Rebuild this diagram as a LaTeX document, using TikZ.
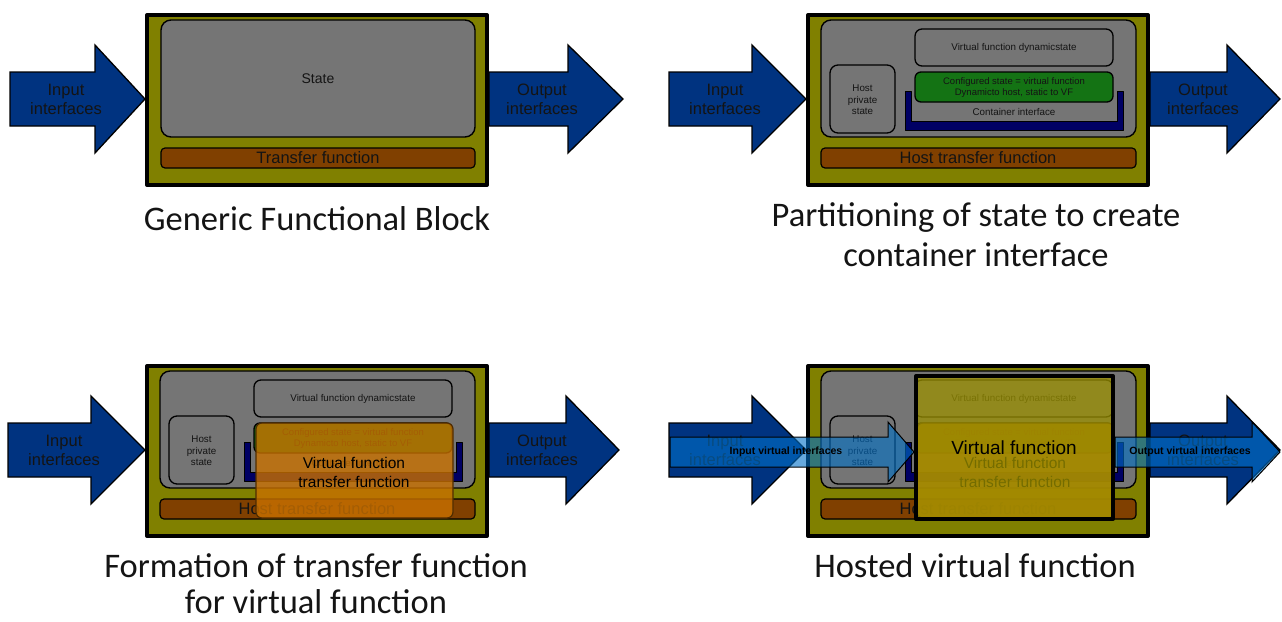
\documentclass[tikz,border=0pt]{standalone}
\usepackage{fontspec}
\setmainfont{Liberation Sans}
\newfontfamily\capfont{Carlito}

\definecolor{blockolive}{RGB}{128,128,0}
\definecolor{stategray}{RGB}{117,117,117}
\definecolor{tfbrown}{RGB}{128,64,0}
\definecolor{ifnavy}{RGB}{0,51,128}
\definecolor{cfggreen}{RGB}{20,115,20}
\definecolor{contnavy}{RGB}{0,0,100}
\definecolor{vtforange}{RGB}{200,112,0}
\definecolor{vfyellow}{RGB}{155,145,0}
\definecolor{vifblue}{RGB}{0,112,200}
\definecolor{inktext}{RGB}{20,20,20}

\newcommand\fs[2]{\fontsize{#1}{#2}\selectfont}

% block arrow: style, tail x, head-start x, tip x, centre y, shaft half-height, head half-height
\newcommand\fatarrow[7]{%
  \path[#1] (#2,{#5-#6}) -- (#3,{#5-#6}) -- (#3,{#5-#7}) -- (#4,#5)
    -- (#3,{#5+#7}) -- (#3,{#5+#6}) -- (#2,{#5+#6}) -- cycle;}

\tikzset{
  bigarrow/.style={draw=black, line width=1.3pt, fill=ifnavy, line join=miter},
  virtarrow/.style={draw=black, line width=1pt, fill=vifblue, fill opacity=0.6, line join=miter},
  arrowtext/.style={text=inktext, align=center, font=\fs{16.5}{19}},
  block/.style={draw=black, line width=4pt, fill=blockolive},
  graybox/.style={draw=black, line width=1.4pt, fill=stategray, rounded corners=10pt},
  innerbox/.style={draw=black, line width=1.3pt, fill=stategray, rounded corners=8pt},
  cfgbox/.style={draw=black, line width=1.3pt, fill=cfggreen, rounded corners=6pt},
  contbar/.style={draw=black, line width=0.8pt, fill=contnavy},
  tfbar/.style={draw=black, line width=1.2pt, fill=tfbrown, rounded corners=4pt},
  bartext/.style={text=inktext, font=\fs{16.5}{19}},
  smalltext/.style={text=inktext, align=center, font=\fs{9.8}{11.5}},
  vtfbox/.style={draw=black!60!vtforange, line width=1.2pt, fill=vtforange,
    fill opacity=0.8, rounded corners=6pt},
  vtftext/.style={text=black, align=center, font=\fs{15.5}{19}},
  vfbox/.style={draw=black, line width=4pt, fill=vfyellow, fill opacity=0.75},
  vfname/.style={text=black, font=\fs{19}{22}},
  virttext/.style={text=black, font=\bfseries\fs{10.5}{12}},
  caption/.style={text=inktext, anchor=base, font=\capfont\fs{34.5}{40}}
}

% host block with partitioned state, drawn at the position of the upper right panel
\newcommand\hostblock{%
  \fatarrow{bigarrow}{669}{752}{806}{99}{27}{54}
  \node[arrowtext] (in) at (725,99) {Input\\interfaces};
  \fatarrow{bigarrow}{1150}{1227}{1280}{99}{27}{54}
  \node[arrowtext] (out) at (1203,99) {Output\\interfaces};
  \draw[block] (808,15) rectangle (1148,185);
  \draw[graybox] (821,20) rectangle (1136,137);
  \draw[innerbox] (830,65) rectangle (895,133);
  \node[smalltext] (hps) at (862.5,100) {Host\\private\\state};
  \draw[innerbox, rounded corners=7pt] (915,29) rectangle (1113,66);
  \node[smalltext] (vfdyn) at (1014,48) {Virtual function dynamicstate};
  \path[contbar] (905,91) -- (905,130) -- (1123,130) -- (1123,91) -- (1117,91)
    -- (1117,121) -- (911,121) -- (911,91) -- cycle;
  \draw[cfgbox] (915,72) rectangle (1113,102);
  \node[smalltext, font=\fs{9.5}{11}] (cfg) at (1014,87.5)
    {Configured state = virtual function\\Dynamicto host, static to VF};
  \node[smalltext] (cont) at (1014,112) {Container interface};
  \draw[tfbar] (821,148) rectangle (1136,168);
  \node[bartext] (htf) at (978,158) {Host transfer function};
}

% transfer function of the virtual function, laid over the host block
\newcommand\vtfoverlay{%
  \draw[vtfbox] (917,72) rectangle (1114,167);
  \node[vtftext] (vtf) at (1015,121.5) {Virtual function\\transfer function};
}

\begin{document}
\begin{tikzpicture}[x=1pt, y=-1pt, line join=round]
\useasboundingbox (0,0) rectangle (1282,621);

% generic functional block
\fatarrow{bigarrow}{10}{95}{145}{99}{27}{54}
\node[arrowtext] (p1-in) at (66,99) {Input\\interfaces};
\fatarrow{bigarrow}{489}{568}{623}{99}{27}{54}
\node[arrowtext] (p1-out) at (542,99) {Output\\interfaces};
\draw[block] (147,15) rectangle (487,185);
\draw[graybox] (161,20) rectangle (475,137);
\node[text=inktext, font=\fs{14}{16}] (p1-state) at (318,79) {State};
\draw[tfbar] (161,148) rectangle (475,168);
\node[bartext] (p1-tf) at (318,158) {Transfer function};
\node[caption] (cap1) at (317,230) {Generic Functional Block};

% partitioning of state
\begin{scope}[name prefix=p2-]
  \hostblock
\end{scope}
\node[caption] (cap2a) at (976,226) {Partitioning of state to create};
\node[caption] (cap2b) at (976,266) {container interface};

% formation of transfer function
\begin{scope}[shift={(-661,351)}, name prefix=p3-]
  \hostblock
  \vtfoverlay
\end{scope}
\node[caption] (cap3a) at (316,577) {Formation of transfer function};
\node[caption] (cap3b) at (316,613) {for virtual function};

% hosted virtual function
\begin{scope}[shift={(0,351)}, name prefix=p4-]
  \hostblock
  \vtfoverlay
  \draw[vfbox] (916,25) rectangle (1113,168);
  \node[vfname] (vf) at (1014,97) {Virtual function};
  \fatarrow{virtarrow}{670}{888}{914}{101}{15}{30}
  \node[virttext] (vin) at (786,101) {Input virtual interfaces};
  \fatarrow{virtarrow}{1115}{1252}{1280}{101}{15}{30}
  \node[virttext] (vout) at (1190,101) {Output virtual interfaces};
\end{scope}
\node[caption] (cap4) at (975,577) {Hosted virtual function};
\end{tikzpicture}
\end{document}
